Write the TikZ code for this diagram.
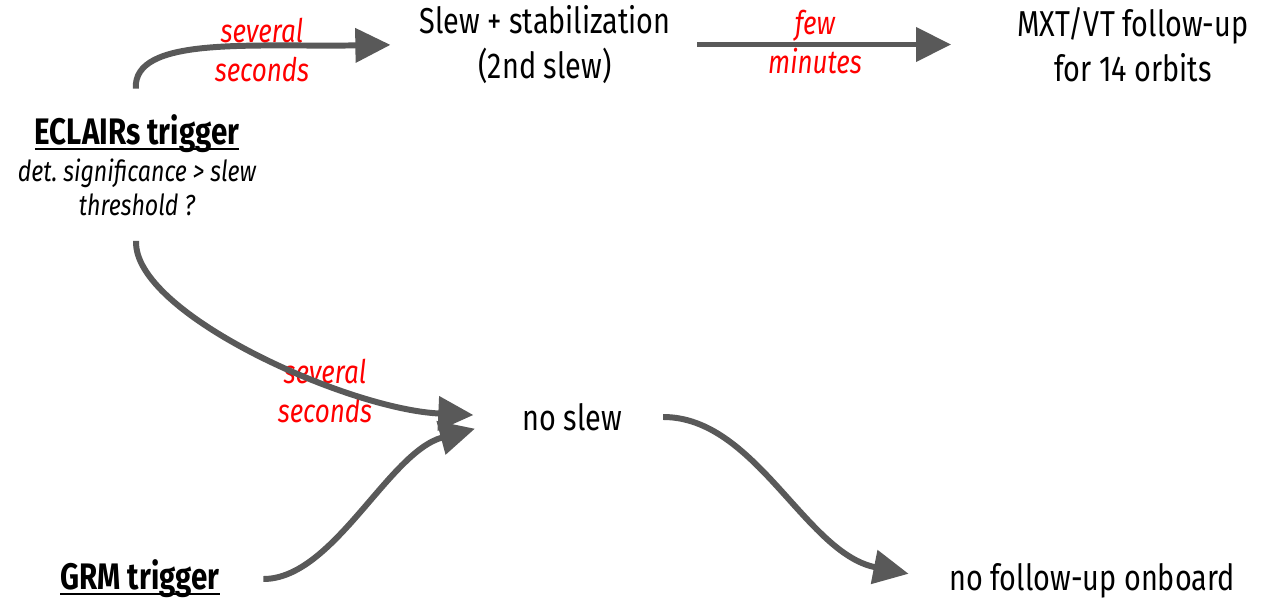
\documentclass[tikz,border=0pt]{standalone}
\usepackage{fontspec}
\setmainfont{Fira Sans}[FakeStretch=0.8]
\usepackage{tikz}
\usetikzlibrary{arrows.meta,
  positioning,
  calc}
\definecolor{flowgray}{HTML}{595959}
\definecolor{labred}{HTML}{FF0000}
% thicker underline for the trigger titles
\newcommand{\thickul}[1]{\setbox0\hbox{#1}\rlap{\rule[-3.2pt]{\wd0}{1.7pt}}\box0}

\begin{document}
\begin{tikzpicture}
    % Define styles for nodes and arrows
    \tikzstyle{step text} = [align=center, inner sep=2pt, font=\fontsize{20.5}{25.5}\selectfont]
    \tikzstyle{trigger} = [align=center, inner sep=2pt, font=\fontsize{21}{25.5}\selectfont\bfseries]
    \tikzstyle{cond text} = [align=center, inner sep=1pt, font=\fontsize{16.5}{19.5}\selectfont\itshape]
    \tikzstyle{delay} = [align=center, inner sep=0pt, text=labred, font=\fontsize{18.5}{22}\selectfont\itshape]
    % Thick grey arrows with a big triangle head
    \tikzset{flowArrow/.style={-{Triangle[length=20pt, width=19pt]},
        line width=3.4pt, draw=flowgray
    }}
    \useasboundingbox (0,0) rectangle (25.4,12);
    % Nodes
    \node (eclairs) [trigger] at (2.74, 9.32) {\thickul{ECLAIRs trigger}};
    \node (cond) [cond text, below=0pt of eclairs] {det.\ significance > slew\\threshold ?};
    \node (slew) [step text] at (10.9, 11.11) {Slew + stabilization\\(2nd slew)};
    \node (mxt) [step text] at (22.66, 11.11) {MXT/VT follow-up\\for 14 orbits};
    \node (noslew) [step text] at (11.44, 3.66) {no slew};
    \node (grm) [trigger] at (2.8, 0.42) {\thickul{GRM trigger}};
    \node (nofollow) [step text] at (21.84, 0.38) {no follow-up onboard};
    % Delay labels
    \node (dslew) [delay] at (5.24, 11.0) {several\\seconds};
    \node (dmxt) [delay] at (16.3, 11.16) {few\\minutes};
    \node (dnoslew) [delay] at (6.5, 4.18) {several\\seconds};
    % Arrows (connections)
    \draw [flowArrow, shorten <=0.45cm, shorten >=0.5cm] (eclairs.north) .. controls +(-0.08,1.5) and +(-3.3,-0.05) .. (slew.west);
    \draw [flowArrow, shorten <=0.45cm, shorten >=1.25cm] (slew.east) -- (slew.east -| mxt.west);
    \draw [flowArrow, shorten <=0.45cm, shorten >=0.9cm] (cond.south) .. controls +(-0.08,-1.9) and +(-3.4,0.15) .. (noslew.west);
    \draw [flowArrow, shorten <=0.8cm, shorten >=0.9cm] (grm.east) .. controls +(2.2,0) and +(-2.6,-0.7) .. (noslew.west);
    \draw [flowArrow, shorten <=0.75cm, shorten >=0.75cm] (noslew.east) .. controls +(2.6,0) and +(-2.8,0.55) .. (nofollow.west);
\end{tikzpicture}
\end{document}
